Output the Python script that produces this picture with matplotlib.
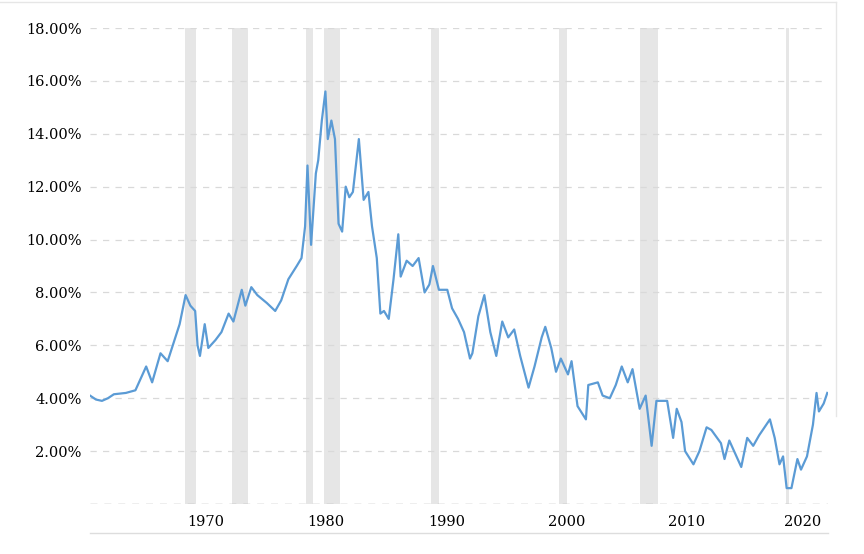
import matplotlib
matplotlib.use("Agg")
import matplotlib.pyplot as plt
from matplotlib.lines import Line2D

# position in years (pixel-matched), yield in %
years = [1962.0, 1962.5, 1963.0, 1963.5, 1964.0, 1965.0, 1965.8, 1966.7, 1967.2, 1967.9,
         1968.5, 1969.0, 1969.5, 1970.0, 1970.4, 1970.8, 1971.0, 1971.2, 1971.6, 1971.9,
         1972.5, 1973.0, 1973.6, 1974.0, 1974.7, 1975.0, 1975.5, 1976.0, 1976.8, 1977.5,
         1978.0, 1978.6, 1979.3, 1979.7, 1980.0, 1980.2, 1980.5, 1980.9, 1981.1, 1981.4,
         1981.7, 1981.9, 1982.2, 1982.5, 1982.8, 1983.1, 1983.4, 1983.7, 1984.0, 1984.5,
         1984.9, 1985.3, 1985.6, 1986.0, 1986.3, 1986.6, 1987.0, 1987.4, 1987.8, 1988.0,
         1988.5, 1989.0, 1989.5, 1990.0, 1990.4, 1990.7, 1991.2, 1991.9, 1992.3, 1992.8,
         1993.3, 1993.8, 1994.0, 1994.5, 1995.0, 1995.5, 1996.0, 1996.5, 1997.0, 1997.5,
         1998.0, 1998.7, 1999.2, 1999.8, 2000.1, 2000.6, 2001.0, 2001.4, 2002.0, 2002.3,
         2002.8, 2003.5, 2003.7, 2004.5, 2004.9, 2005.5, 2006.0, 2006.5, 2007.0, 2007.4,
         2008.0, 2008.5, 2009.0, 2009.4, 2010.3, 2010.8, 2011.1, 2011.5, 2011.8, 2012.5,
         2013.0, 2013.6, 2014.0, 2014.8, 2015.1, 2015.5, 2016.5, 2017.0, 2017.5, 2018.0,
         2018.9, 2019.3, 2019.7, 2020.0, 2020.3, 2020.7, 2021.2, 2021.5, 2022.0, 2022.5,
         2022.8, 2023.0, 2023.4, 2023.7]
rates = [4.1, 3.95, 3.9, 4.0, 4.15, 4.2, 4.3, 5.2, 4.6, 5.7,
         5.4, 6.1, 6.8, 7.9, 7.5, 7.3, 6.0, 5.6, 6.8, 5.9,
         6.2, 6.5, 7.2, 6.9, 8.1, 7.5, 8.2, 7.9, 7.6, 7.3,
         7.7, 8.5, 9.0, 9.3, 10.5, 12.8, 9.8, 12.5, 13.0, 14.5,
         15.6, 13.8, 14.5, 13.8, 10.6, 10.3, 12.0, 11.6, 11.8, 13.8,
         11.5, 11.8, 10.5, 9.3, 7.2, 7.3, 7.0, 8.5, 10.2, 8.6,
         9.2, 9.0, 9.3, 8.0, 8.3, 9.0, 8.1, 8.1, 7.4, 7.0,
         6.5, 5.5, 5.7, 7.1, 7.9, 6.5, 5.6, 6.9, 6.3, 6.6,
         5.6, 4.4, 5.2, 6.3, 6.7, 5.9, 5.0, 5.5, 4.9, 5.4,
         3.7, 3.2, 4.5, 4.6, 4.1, 4.0, 4.5, 5.2, 4.6, 5.1,
         3.6, 4.1, 2.2, 3.9, 3.9, 2.5, 3.6, 3.1, 2.0, 1.5,
         2.0, 2.9, 2.8, 2.3, 1.7, 2.4, 1.4, 2.5, 2.2, 2.6,
         3.2, 2.5, 1.5, 1.8, 0.6, 0.6, 1.7, 1.3, 1.8, 3.0,
         4.2, 3.5, 3.8, 4.2]
recessions = [(1969.95, 1970.87), (1973.88, 1975.22), (1980.08, 1980.66), (1981.58, 1982.92),
              (1990.54, 1991.2), (2001.25, 2001.92), (2008.02, 2009.53), (2020.24, 2020.49)]
tick_pos = [1971.71, 1981.75, 1991.87, 2001.92, 2011.96, 2021.67]
tick_labels = ["1970", "1980", "1990", "2000", "2010", "2020"]
yticks = [2, 4, 6, 8, 10, 12, 14, 16, 18]

fig = plt.figure(figsize=(8.64, 5.54), dpi=100)
ax = fig.add_axes([90/864, 50/554, 738/864, 476/554])
ax.set_xlim(1962.0, 2023.76)
ax.set_ylim(0, 18)

for a, b in recessions:
    ax.axvspan(a, b, color="#e6e6e6", lw=0, zorder=0)
for y in yticks:
    ax.axhline(y, color="#d9d9d9", lw=0.9, ls=(0, (5, 5)), zorder=1)
ax.axhline(0, color="#aaaaaa", lw=1.0, ls=(0, (5, 5)), zorder=1)

ax.plot(years, rates, color="#5b9bd5", lw=1.6, zorder=3)

for s in ax.spines.values():
    s.set_visible(False)
ax.set_yticks(yticks)
ax.set_yticklabels([f"{v:.2f}%" for v in yticks], fontfamily="DejaVu Serif", fontsize=10.5)
ax.set_xticks(tick_pos)
ax.set_xticklabels(tick_labels, fontfamily="DejaVu Serif", fontsize=10.5)
ax.tick_params(length=0, pad=8)
ax.tick_params(axis="y", pad=6)

fig.add_artist(Line2D([90/864, 828/864], [1 - 533/554] * 2, color="#dddddd", lw=1))
fig.add_artist(Line2D([836/864, 836/864], [1 - 2/554, 0.25], color="#e6e6e6", lw=1))
fig.add_artist(Line2D([0.0, 836/864], [1 - 2/554] * 2, color="#e6e6e6", lw=1))

fig.savefig("out.png", dpi=100)
